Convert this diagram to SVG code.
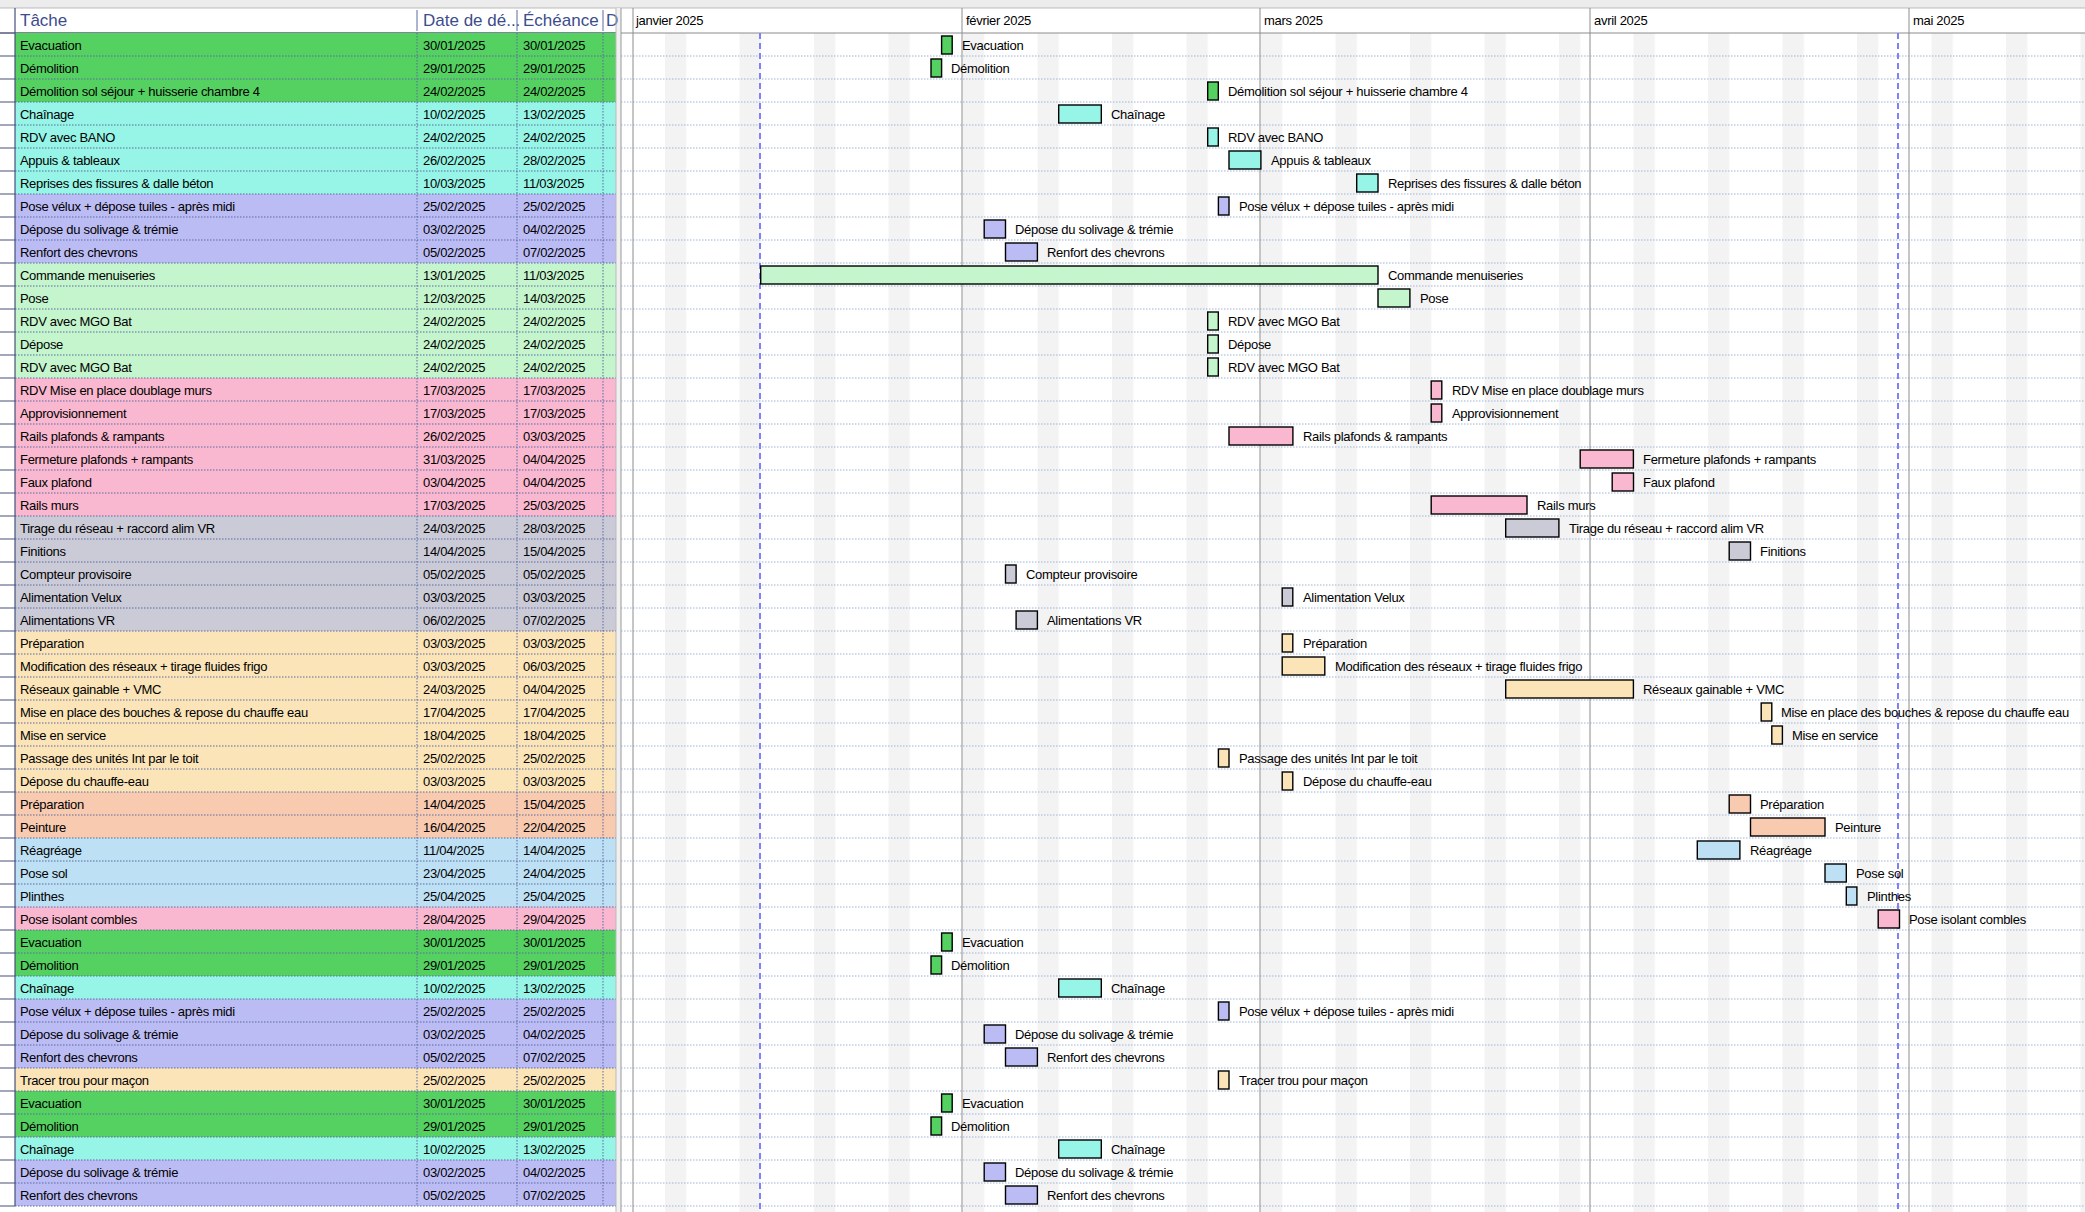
<svg xmlns="http://www.w3.org/2000/svg" width="2085" height="1212" viewBox="0 0 2085 1212">
<style>
text{font-family:"Liberation Sans",Arial,sans-serif;font-size:13px;fill:#000;letter-spacing:-0.3px}
g[id^=r] text{transform:translateY(1px)}
.h{font-size:17px;fill:#3c4c8c;letter-spacing:0}
.m{font-size:13px}
.b{stroke:#000;stroke-width:1.4}
.tr{stroke:none}
.G rect{fill:#55d162}.C rect{fill:#96f5e6}.L rect{fill:#bcbcf5}.LG rect{fill:#c4f5cc}.P rect{fill:#f9b8cf}.Gr rect{fill:#cbcbd8}.Y rect{fill:#fbe5b8}.Pe rect{fill:#f8cab0}.LB rect{fill:#bde0f5}
</style>
<defs>
<pattern id="wk" x="665" y="0" width="74.5" height="20" patternUnits="userSpaceOnUse"><rect width="21.3" height="20" fill="#f3f3f3"/></pattern>
</defs>
<rect width="2085" height="1212" fill="#fff"/>
<rect width="2085" height="8" fill="#ececec"/>
<line x1="0" y1="8" x2="2085" y2="8" stroke="#bbb"/>
<g id="gantt-bg">
<rect x="633" y="33" width="1452" height="1179" fill="url(#wk)"/>
<rect x="616" y="8" width="5" height="1204" fill="#f0f0f0"/>
<line x1="621" y1="8" x2="621" y2="1212" stroke="#999"/>
<g stroke="#9db4d6" stroke-dasharray="1.5,1.5" stroke-width="1">
<path d="M621 56H2085M621 79H2085M621 102H2085M621 125H2085M621 148H2085M621 171H2085M621 194H2085M621 217H2085M621 240H2085M621 263H2085M621 286H2085M621 309H2085M621 332H2085M621 355H2085M621 378H2085M621 401H2085M621 424H2085M621 447H2085M621 470H2085M621 493H2085M621 516H2085M621 539H2085M621 562H2085M621 585H2085M621 608H2085M621 631H2085M621 654H2085M621 677H2085M621 700H2085M621 723H2085M621 746H2085M621 769H2085M621 792H2085M621 815H2085M621 838H2085M621 861H2085M621 884H2085M621 907H2085M621 930H2085M621 953H2085M621 976H2085M621 999H2085M621 1022H2085M621 1045H2085M621 1068H2085M621 1091H2085M621 1114H2085M621 1137H2085M621 1160H2085M621 1183H2085M621 1206H2085"/>
</g>
<g stroke="#8c8c8c" stroke-width="1">
<line x1="633" y1="8" x2="633" y2="1212"/>
<line x1="962" y1="8" x2="962" y2="1212"/>
<line x1="1260" y1="8" x2="1260" y2="1212"/>
<line x1="1590" y1="8" x2="1590" y2="1212"/>
<line x1="1909" y1="8" x2="1909" y2="1212"/>
</g>
<line x1="621" y1="33" x2="2085" y2="33" stroke="#8c8c8c"/>
<g stroke="#8080f8" stroke-width="2" stroke-dasharray="6,4">
<line x1="760" y1="33" x2="760" y2="1212"/>
<line x1="1898" y1="33" x2="1898" y2="1212"/>
</g>
<text class="m" x="636" y="25">janvier 2025</text>
<text class="m" x="966" y="25">février 2025</text>
<text class="m" x="1264" y="25">mars 2025</text>
<text class="m" x="1594" y="25">avril 2025</text>
<text class="m" x="1913" y="25">mai 2025</text>
</g>
<g id="header">
<text class="h" x="20" y="26">Tâche</text>
<text class="h" x="423" y="26">Date de dé...</text>
<text class="h" x="523" y="26">Échéance</text>
<text class="h" x="606" y="26">D</text>
<g stroke="#5a6aa0"><line x1="417" y1="10" x2="417" y2="31"/><line x1="517" y1="10" x2="517" y2="31"/><line x1="603" y1="10" x2="603" y2="31"/></g>
<line x1="0" y1="33" x2="616" y2="33" stroke="#555a80" stroke-width="1.5"/>
</g>
<g id="r1" class="G" transform="translate(0,33)"><rect class="tr" x="15" width="601" height="23"/><text x="20" y="16">Evacuation</text><text x="423" y="16">30/01/2025</text><text x="523" y="16">30/01/2025</text><rect class="b" x="941.6" y="3" width="10.6" height="18"/><text x="962" y="16">Evacuation</text></g>
<g id="r2" class="G" transform="translate(0,56)"><rect class="tr" x="15" width="601" height="23"/><text x="20" y="16">Démolition</text><text x="423" y="16">29/01/2025</text><text x="523" y="16">29/01/2025</text><rect class="b" x="931" y="3" width="10.6" height="18"/><text x="951" y="16">Démolition</text></g>
<g id="r3" class="G" transform="translate(0,79)"><rect class="tr" x="15" width="601" height="23"/><text x="20" y="16">Démolition sol séjour + huisserie chambre 4</text><text x="423" y="16">24/02/2025</text><text x="523" y="16">24/02/2025</text><rect class="b" x="1207.7" y="3" width="10.6" height="18"/><text x="1228" y="16">Démolition sol séjour + huisserie chambre 4</text></g>
<g id="r4" class="C" transform="translate(0,102)"><rect class="tr" x="15" width="601" height="23"/><text x="20" y="16">Chaînage</text><text x="423" y="16">10/02/2025</text><text x="523" y="16">13/02/2025</text><rect class="b" x="1058.7" y="3" width="42.6" height="18"/><text x="1111" y="16">Chaînage</text></g>
<g id="r5" class="C" transform="translate(0,125)"><rect class="tr" x="15" width="601" height="23"/><text x="20" y="16">RDV avec BANO</text><text x="423" y="16">24/02/2025</text><text x="523" y="16">24/02/2025</text><rect class="b" x="1207.7" y="3" width="10.6" height="18"/><text x="1228" y="16">RDV avec BANO</text></g>
<g id="r6" class="C" transform="translate(0,148)"><rect class="tr" x="15" width="601" height="23"/><text x="20" y="16">Appuis &amp; tableaux</text><text x="423" y="16">26/02/2025</text><text x="523" y="16">28/02/2025</text><rect class="b" x="1229" y="3" width="31.9" height="18"/><text x="1271" y="16">Appuis &amp; tableaux</text></g>
<g id="r7" class="C" transform="translate(0,171)"><rect class="tr" x="15" width="601" height="23"/><text x="20" y="16">Reprises des fissures &amp; dalle béton</text><text x="423" y="16">10/03/2025</text><text x="523" y="16">11/03/2025</text><rect class="b" x="1356.7" y="3" width="21.3" height="18"/><text x="1388" y="16">Reprises des fissures &amp; dalle béton</text></g>
<g id="r8" class="L" transform="translate(0,194)"><rect class="tr" x="15" width="601" height="23"/><text x="20" y="16">Pose vélux + dépose tuiles - après midi</text><text x="423" y="16">25/02/2025</text><text x="523" y="16">25/02/2025</text><rect class="b" x="1218.4" y="3" width="10.6" height="18"/><text x="1239" y="16">Pose vélux + dépose tuiles - après midi</text></g>
<g id="r9" class="L" transform="translate(0,217)"><rect class="tr" x="15" width="601" height="23"/><text x="20" y="16">Dépose du solivage &amp; trémie</text><text x="423" y="16">03/02/2025</text><text x="523" y="16">04/02/2025</text><rect class="b" x="984.2" y="3" width="21.3" height="18"/><text x="1015" y="16">Dépose du solivage &amp; trémie</text></g>
<g id="r10" class="L" transform="translate(0,240)"><rect class="tr" x="15" width="601" height="23"/><text x="20" y="16">Renfort des chevrons</text><text x="423" y="16">05/02/2025</text><text x="523" y="16">07/02/2025</text><rect class="b" x="1005.5" y="3" width="31.9" height="18"/><text x="1047" y="16">Renfort des chevrons</text></g>
<g id="r11" class="LG" transform="translate(0,263)"><rect class="tr" x="15" width="601" height="23"/><text x="20" y="16">Commande menuiseries</text><text x="423" y="16">13/01/2025</text><text x="523" y="16">11/03/2025</text><rect class="b" x="760.7" y="3" width="617.3" height="18"/><text x="1388" y="16">Commande menuiseries</text></g>
<g id="r12" class="LG" transform="translate(0,286)"><rect class="tr" x="15" width="601" height="23"/><text x="20" y="16">Pose</text><text x="423" y="16">12/03/2025</text><text x="523" y="16">14/03/2025</text><rect class="b" x="1378" y="3" width="31.9" height="18"/><text x="1420" y="16">Pose</text></g>
<g id="r13" class="LG" transform="translate(0,309)"><rect class="tr" x="15" width="601" height="23"/><text x="20" y="16">RDV avec MGO Bat</text><text x="423" y="16">24/02/2025</text><text x="523" y="16">24/02/2025</text><rect class="b" x="1207.7" y="3" width="10.6" height="18"/><text x="1228" y="16">RDV avec MGO Bat</text></g>
<g id="r14" class="LG" transform="translate(0,332)"><rect class="tr" x="15" width="601" height="23"/><text x="20" y="16">Dépose</text><text x="423" y="16">24/02/2025</text><text x="523" y="16">24/02/2025</text><rect class="b" x="1207.7" y="3" width="10.6" height="18"/><text x="1228" y="16">Dépose</text></g>
<g id="r15" class="LG" transform="translate(0,355)"><rect class="tr" x="15" width="601" height="23"/><text x="20" y="16">RDV avec MGO Bat</text><text x="423" y="16">24/02/2025</text><text x="523" y="16">24/02/2025</text><rect class="b" x="1207.7" y="3" width="10.6" height="18"/><text x="1228" y="16">RDV avec MGO Bat</text></g>
<g id="r16" class="P" transform="translate(0,378)"><rect class="tr" x="15" width="601" height="23"/><text x="20" y="16">RDV Mise en place doublage murs</text><text x="423" y="16">17/03/2025</text><text x="523" y="16">17/03/2025</text><rect class="b" x="1431.2" y="3" width="10.6" height="18"/><text x="1452" y="16">RDV Mise en place doublage murs</text></g>
<g id="r17" class="P" transform="translate(0,401)"><rect class="tr" x="15" width="601" height="23"/><text x="20" y="16">Approvisionnement</text><text x="423" y="16">17/03/2025</text><text x="523" y="16">17/03/2025</text><rect class="b" x="1431.2" y="3" width="10.6" height="18"/><text x="1452" y="16">Approvisionnement</text></g>
<g id="r18" class="P" transform="translate(0,424)"><rect class="tr" x="15" width="601" height="23"/><text x="20" y="16">Rails plafonds &amp; rampants</text><text x="423" y="16">26/02/2025</text><text x="523" y="16">03/03/2025</text><rect class="b" x="1229" y="3" width="63.9" height="18"/><text x="1303" y="16">Rails plafonds &amp; rampants</text></g>
<g id="r19" class="P" transform="translate(0,447)"><rect class="tr" x="15" width="601" height="23"/><text x="20" y="16">Fermeture plafonds + rampants</text><text x="423" y="16">31/03/2025</text><text x="523" y="16">04/04/2025</text><rect class="b" x="1580.2" y="3" width="53.2" height="18"/><text x="1643" y="16">Fermeture plafonds + rampants</text></g>
<g id="r20" class="P" transform="translate(0,470)"><rect class="tr" x="15" width="601" height="23"/><text x="20" y="16">Faux plafond</text><text x="423" y="16">03/04/2025</text><text x="523" y="16">04/04/2025</text><rect class="b" x="1612.2" y="3" width="21.3" height="18"/><text x="1643" y="16">Faux plafond</text></g>
<g id="r21" class="P" transform="translate(0,493)"><rect class="tr" x="15" width="601" height="23"/><text x="20" y="16">Rails murs</text><text x="423" y="16">17/03/2025</text><text x="523" y="16">25/03/2025</text><rect class="b" x="1431.2" y="3" width="95.8" height="18"/><text x="1537" y="16">Rails murs</text></g>
<g id="r22" class="Gr" transform="translate(0,516)"><rect class="tr" x="15" width="601" height="23"/><text x="20" y="16">Tirage du réseau + raccord alim VR</text><text x="423" y="16">24/03/2025</text><text x="523" y="16">28/03/2025</text><rect class="b" x="1505.7" y="3" width="53.2" height="18"/><text x="1569" y="16">Tirage du réseau + raccord alim VR</text></g>
<g id="r23" class="Gr" transform="translate(0,539)"><rect class="tr" x="15" width="601" height="23"/><text x="20" y="16">Finitions</text><text x="423" y="16">14/04/2025</text><text x="523" y="16">15/04/2025</text><rect class="b" x="1729.2" y="3" width="21.3" height="18"/><text x="1760" y="16">Finitions</text></g>
<g id="r24" class="Gr" transform="translate(0,562)"><rect class="tr" x="15" width="601" height="23"/><text x="20" y="16">Compteur provisoire</text><text x="423" y="16">05/02/2025</text><text x="523" y="16">05/02/2025</text><rect class="b" x="1005.5" y="3" width="10.6" height="18"/><text x="1026" y="16">Compteur provisoire</text></g>
<g id="r25" class="Gr" transform="translate(0,585)"><rect class="tr" x="15" width="601" height="23"/><text x="20" y="16">Alimentation Velux</text><text x="423" y="16">03/03/2025</text><text x="523" y="16">03/03/2025</text><rect class="b" x="1282.2" y="3" width="10.6" height="18"/><text x="1303" y="16">Alimentation Velux</text></g>
<g id="r26" class="Gr" transform="translate(0,608)"><rect class="tr" x="15" width="601" height="23"/><text x="20" y="16">Alimentations VR</text><text x="423" y="16">06/02/2025</text><text x="523" y="16">07/02/2025</text><rect class="b" x="1016.1" y="3" width="21.3" height="18"/><text x="1047" y="16">Alimentations VR</text></g>
<g id="r27" class="Y" transform="translate(0,631)"><rect class="tr" x="15" width="601" height="23"/><text x="20" y="16">Préparation</text><text x="423" y="16">03/03/2025</text><text x="523" y="16">03/03/2025</text><rect class="b" x="1282.2" y="3" width="10.6" height="18"/><text x="1303" y="16">Préparation</text></g>
<g id="r28" class="Y" transform="translate(0,654)"><rect class="tr" x="15" width="601" height="23"/><text x="20" y="16">Modification des réseaux + tirage fluides frigo</text><text x="423" y="16">03/03/2025</text><text x="523" y="16">06/03/2025</text><rect class="b" x="1282.2" y="3" width="42.6" height="18"/><text x="1335" y="16">Modification des réseaux + tirage fluides frigo</text></g>
<g id="r29" class="Y" transform="translate(0,677)"><rect class="tr" x="15" width="601" height="23"/><text x="20" y="16">Réseaux gainable + VMC</text><text x="423" y="16">24/03/2025</text><text x="523" y="16">04/04/2025</text><rect class="b" x="1505.7" y="3" width="127.7" height="18"/><text x="1643" y="16">Réseaux gainable + VMC</text></g>
<g id="r30" class="Y" transform="translate(0,700)"><rect class="tr" x="15" width="601" height="23"/><text x="20" y="16">Mise en place des bouches &amp; repose du chauffe eau</text><text x="423" y="16">17/04/2025</text><text x="523" y="16">17/04/2025</text><rect class="b" x="1761.2" y="3" width="10.6" height="18"/><text x="1781" y="16">Mise en place des bouches &amp; repose du chauffe eau</text></g>
<g id="r31" class="Y" transform="translate(0,723)"><rect class="tr" x="15" width="601" height="23"/><text x="20" y="16">Mise en service</text><text x="423" y="16">18/04/2025</text><text x="523" y="16">18/04/2025</text><rect class="b" x="1771.8" y="3" width="10.6" height="18"/><text x="1792" y="16">Mise en service</text></g>
<g id="r32" class="Y" transform="translate(0,746)"><rect class="tr" x="15" width="601" height="23"/><text x="20" y="16">Passage des unités Int par le toit</text><text x="423" y="16">25/02/2025</text><text x="523" y="16">25/02/2025</text><rect class="b" x="1218.4" y="3" width="10.6" height="18"/><text x="1239" y="16">Passage des unités Int par le toit</text></g>
<g id="r33" class="Y" transform="translate(0,769)"><rect class="tr" x="15" width="601" height="23"/><text x="20" y="16">Dépose du chauffe-eau</text><text x="423" y="16">03/03/2025</text><text x="523" y="16">03/03/2025</text><rect class="b" x="1282.2" y="3" width="10.6" height="18"/><text x="1303" y="16">Dépose du chauffe-eau</text></g>
<g id="r34" class="Pe" transform="translate(0,792)"><rect class="tr" x="15" width="601" height="23"/><text x="20" y="16">Préparation</text><text x="423" y="16">14/04/2025</text><text x="523" y="16">15/04/2025</text><rect class="b" x="1729.2" y="3" width="21.3" height="18"/><text x="1760" y="16">Préparation</text></g>
<g id="r35" class="Pe" transform="translate(0,815)"><rect class="tr" x="15" width="601" height="23"/><text x="20" y="16">Peinture</text><text x="423" y="16">16/04/2025</text><text x="523" y="16">22/04/2025</text><rect class="b" x="1750.5" y="3" width="74.5" height="18"/><text x="1835" y="16">Peinture</text></g>
<g id="r36" class="LB" transform="translate(0,838)"><rect class="tr" x="15" width="601" height="23"/><text x="20" y="16">Réagréage</text><text x="423" y="16">11/04/2025</text><text x="523" y="16">14/04/2025</text><rect class="b" x="1697.3" y="3" width="42.6" height="18"/><text x="1750" y="16">Réagréage</text></g>
<g id="r37" class="LB" transform="translate(0,861)"><rect class="tr" x="15" width="601" height="23"/><text x="20" y="16">Pose sol</text><text x="423" y="16">23/04/2025</text><text x="523" y="16">24/04/2025</text><rect class="b" x="1825" y="3" width="21.3" height="18"/><text x="1856" y="16">Pose sol</text></g>
<g id="r38" class="LB" transform="translate(0,884)"><rect class="tr" x="15" width="601" height="23"/><text x="20" y="16">Plinthes</text><text x="423" y="16">25/04/2025</text><text x="523" y="16">25/04/2025</text><rect class="b" x="1846.3" y="3" width="10.6" height="18"/><text x="1867" y="16">Plinthes</text></g>
<g id="r39" class="P" transform="translate(0,907)"><rect class="tr" x="15" width="601" height="23"/><text x="20" y="16">Pose isolant combles</text><text x="423" y="16">28/04/2025</text><text x="523" y="16">29/04/2025</text><rect class="b" x="1878.2" y="3" width="21.3" height="18"/><text x="1909" y="16">Pose isolant combles</text></g>
<g id="r40" class="G" transform="translate(0,930)"><rect class="tr" x="15" width="601" height="23"/><text x="20" y="16">Evacuation</text><text x="423" y="16">30/01/2025</text><text x="523" y="16">30/01/2025</text><rect class="b" x="941.6" y="3" width="10.6" height="18"/><text x="962" y="16">Evacuation</text></g>
<g id="r41" class="G" transform="translate(0,953)"><rect class="tr" x="15" width="601" height="23"/><text x="20" y="16">Démolition</text><text x="423" y="16">29/01/2025</text><text x="523" y="16">29/01/2025</text><rect class="b" x="931" y="3" width="10.6" height="18"/><text x="951" y="16">Démolition</text></g>
<g id="r42" class="C" transform="translate(0,976)"><rect class="tr" x="15" width="601" height="23"/><text x="20" y="16">Chaînage</text><text x="423" y="16">10/02/2025</text><text x="523" y="16">13/02/2025</text><rect class="b" x="1058.7" y="3" width="42.6" height="18"/><text x="1111" y="16">Chaînage</text></g>
<g id="r43" class="L" transform="translate(0,999)"><rect class="tr" x="15" width="601" height="23"/><text x="20" y="16">Pose vélux + dépose tuiles - après midi</text><text x="423" y="16">25/02/2025</text><text x="523" y="16">25/02/2025</text><rect class="b" x="1218.4" y="3" width="10.6" height="18"/><text x="1239" y="16">Pose vélux + dépose tuiles - après midi</text></g>
<g id="r44" class="L" transform="translate(0,1022)"><rect class="tr" x="15" width="601" height="23"/><text x="20" y="16">Dépose du solivage &amp; trémie</text><text x="423" y="16">03/02/2025</text><text x="523" y="16">04/02/2025</text><rect class="b" x="984.2" y="3" width="21.3" height="18"/><text x="1015" y="16">Dépose du solivage &amp; trémie</text></g>
<g id="r45" class="L" transform="translate(0,1045)"><rect class="tr" x="15" width="601" height="23"/><text x="20" y="16">Renfort des chevrons</text><text x="423" y="16">05/02/2025</text><text x="523" y="16">07/02/2025</text><rect class="b" x="1005.5" y="3" width="31.9" height="18"/><text x="1047" y="16">Renfort des chevrons</text></g>
<g id="r46" class="Y" transform="translate(0,1068)"><rect class="tr" x="15" width="601" height="23"/><text x="20" y="16">Tracer trou pour maçon</text><text x="423" y="16">25/02/2025</text><text x="523" y="16">25/02/2025</text><rect class="b" x="1218.4" y="3" width="10.6" height="18"/><text x="1239" y="16">Tracer trou pour maçon</text></g>
<g id="r47" class="G" transform="translate(0,1091)"><rect class="tr" x="15" width="601" height="23"/><text x="20" y="16">Evacuation</text><text x="423" y="16">30/01/2025</text><text x="523" y="16">30/01/2025</text><rect class="b" x="941.6" y="3" width="10.6" height="18"/><text x="962" y="16">Evacuation</text></g>
<g id="r48" class="G" transform="translate(0,1114)"><rect class="tr" x="15" width="601" height="23"/><text x="20" y="16">Démolition</text><text x="423" y="16">29/01/2025</text><text x="523" y="16">29/01/2025</text><rect class="b" x="931" y="3" width="10.6" height="18"/><text x="951" y="16">Démolition</text></g>
<g id="r49" class="C" transform="translate(0,1137)"><rect class="tr" x="15" width="601" height="23"/><text x="20" y="16">Chaînage</text><text x="423" y="16">10/02/2025</text><text x="523" y="16">13/02/2025</text><rect class="b" x="1058.7" y="3" width="42.6" height="18"/><text x="1111" y="16">Chaînage</text></g>
<g id="r50" class="L" transform="translate(0,1160)"><rect class="tr" x="15" width="601" height="23"/><text x="20" y="16">Dépose du solivage &amp; trémie</text><text x="423" y="16">03/02/2025</text><text x="523" y="16">04/02/2025</text><rect class="b" x="984.2" y="3" width="21.3" height="18"/><text x="1015" y="16">Dépose du solivage &amp; trémie</text></g>
<g id="r51" class="L" transform="translate(0,1183)"><rect class="tr" x="15" width="601" height="23"/><text x="20" y="16">Renfort des chevrons</text><text x="423" y="16">05/02/2025</text><text x="523" y="16">07/02/2025</text><rect class="b" x="1005.5" y="3" width="31.9" height="18"/><text x="1047" y="16">Renfort des chevrons</text></g>
<g id="table-grid">
<g stroke="#5a6aa0" stroke-dasharray="1.5,1.5" stroke-width="1">
<path d="M15 56H616M15 79H616M15 102H616M15 125H616M15 148H616M15 171H616M15 194H616M15 217H616M15 240H616M15 263H616M15 286H616M15 309H616M15 332H616M15 355H616M15 378H616M15 401H616M15 424H616M15 447H616M15 470H616M15 493H616M15 516H616M15 539H616M15 562H616M15 585H616M15 608H616M15 631H616M15 654H616M15 677H616M15 700H616M15 723H616M15 746H616M15 769H616M15 792H616M15 815H616M15 838H616M15 861H616M15 884H616M15 907H616M15 930H616M15 953H616M15 976H616M15 999H616M15 1022H616M15 1045H616M15 1068H616M15 1091H616M15 1114H616M15 1137H616M15 1160H616M15 1183H616M15 1206H616"/>
<path d="M417 33V1206M517 33V1206M603 33V1206"/>
</g>
<g stroke="#46507a" stroke-width="1.2">
<path d="M0 56H15M0 79H15M0 102H15M0 125H15M0 148H15M0 171H15M0 194H15M0 217H15M0 240H15M0 263H15M0 286H15M0 309H15M0 332H15M0 355H15M0 378H15M0 401H15M0 424H15M0 447H15M0 470H15M0 493H15M0 516H15M0 539H15M0 562H15M0 585H15M0 608H15M0 631H15M0 654H15M0 677H15M0 700H15M0 723H15M0 746H15M0 769H15M0 792H15M0 815H15M0 838H15M0 861H15M0 884H15M0 907H15M0 930H15M0 953H15M0 976H15M0 999H15M0 1022H15M0 1045H15M0 1068H15M0 1091H15M0 1114H15M0 1137H15M0 1160H15M0 1183H15M0 1206H15"/>
<path d="M15 8V1206"/>
</g>
<line x1="616" y1="8" x2="616" y2="1212" stroke="#bbb"/>
</g>
</svg>
